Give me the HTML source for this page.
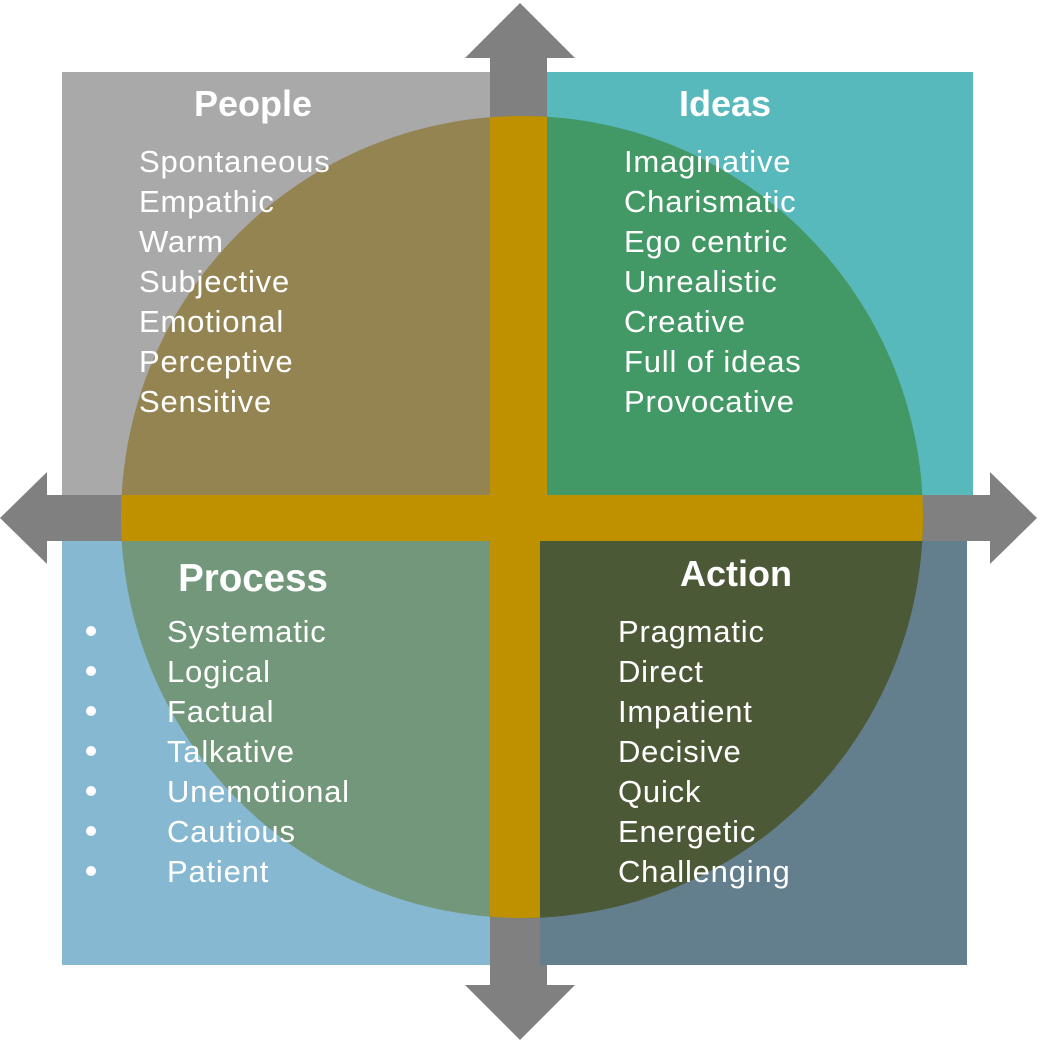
<!DOCTYPE html>
<html><head><meta charset="utf-8"><style>html,body{margin:0;padding:0;background:#fff}svg{display:block}</style></head>
<body>
<svg width="1042" height="1045" viewBox="0 0 1042 1045" xmlns="http://www.w3.org/2000/svg">
<defs><clipPath id="c"><circle cx="522" cy="517" r="401"/></clipPath></defs>
<g fill="#808080">
<rect x="490" y="56" width="57" height="932"/>
<polygon points="520,3 465,58 575,58"/>
<polygon points="520,1040 465,985 575,985"/>
<rect x="45" y="495" width="947" height="46"/>
<polygon points="0,518 47,472 47,564"/>
<polygon points="1037,518 990,472 990,564"/>
</g>
<rect x="62" y="72" width="428" height="423" fill="#a9a9a9"/>
<rect x="547" y="72" width="426" height="423" fill="#58b9bd"/>
<rect x="62" y="541" width="428" height="424" fill="#87b8d2"/>
<rect x="540" y="541" width="427" height="424" fill="#637f8d"/>
<g clip-path="url(#c)">
<rect x="100" y="100" width="422" height="418" fill="#938452"/>
<rect x="522" y="100" width="420" height="418" fill="#439966"/>
<rect x="100" y="518" width="422" height="420" fill="#72977a"/>
<rect x="522" y="518" width="420" height="420" fill="#4b5936"/>
<rect x="490" y="100" width="57" height="420" fill="#bf9000"/>
<rect x="490" y="518" width="50" height="420" fill="#bf9000"/>
<rect x="100" y="495" width="840" height="46" fill="#bf9000"/>
</g>
<g fill="#fff" font-family="Liberation Sans, sans-serif">
<g font-weight="bold" font-size="36" text-anchor="middle">
<text x="253" y="116">People</text>
<text x="725" y="116">Ideas</text>
<text x="253" y="591" font-size="38.5">Process</text>
<text x="736" y="586">Action</text>
</g>
<g font-size="31" letter-spacing="0.8">
<text x="139" y="172">Spontaneous</text><text x="139" y="212">Empathic</text><text x="139" y="252">Warm</text><text x="139" y="292">Subjective</text><text x="139" y="332">Emotional</text><text x="139" y="372">Perceptive</text><text x="139" y="412">Sensitive</text>
<text x="624" y="172">Imaginative</text><text x="624" y="212">Charismatic</text><text x="624" y="252">Ego centric</text><text x="624" y="292">Unrealistic</text><text x="624" y="332">Creative</text><text x="624" y="372">Full of ideas</text><text x="624" y="412">Provocative</text>
<text x="167" y="642">Systematic</text><text x="167" y="682">Logical</text><text x="167" y="722">Factual</text><text x="167" y="762">Talkative</text><text x="167" y="802">Unemotional</text><text x="167" y="842">Cautious</text><text x="167" y="882">Patient</text>
<text x="618" y="642">Pragmatic</text><text x="618" y="682">Direct</text><text x="618" y="722">Impatient</text><text x="618" y="762">Decisive</text><text x="618" y="802">Quick</text><text x="618" y="842">Energetic</text><text x="618" y="882">Challenging</text>
</g>
<g>
<circle cx="91" cy="631" r="5"/><circle cx="91" cy="671" r="5"/><circle cx="91" cy="711" r="5"/><circle cx="91" cy="751" r="5"/><circle cx="91" cy="791" r="5"/><circle cx="91" cy="831" r="5"/><circle cx="91" cy="871" r="5"/>
</g>
</g>
</svg>
</body></html>
